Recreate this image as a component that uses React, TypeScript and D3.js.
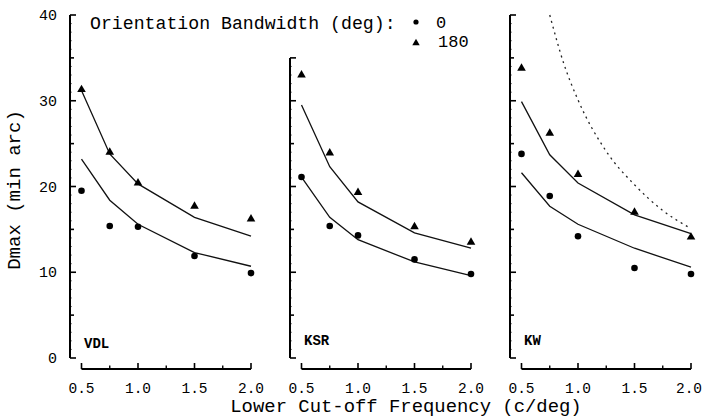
import React, { useEffect, useRef } from 'react';
import * as d3 from 'd3';

// lower cut-off frequencies (c/deg)
const freqs = [0.5, 0.75, 1.0, 1.5, 2.0];

const panelNames = ['VDL', 'KSR', 'KW'];
const panelTops = [40, 35, 40];

// measured Dmax, orientation bandwidth 0 deg (circles)
const bw0 = [
    [19.5, 15.4, 15.3, 11.9, 9.9],
    [21.1, 15.4, 14.3, 11.5, 9.8],
    [23.8, 18.9, 14.2, 10.5, 9.8],
];
// measured Dmax, orientation bandwidth 180 deg (triangles)
const bw180 = [
    [31.3, 24.0, 20.4, 17.7, 16.2],
    [33.0, 23.9, 19.3, 15.3, 13.5],
    [33.8, 26.2, 21.4, 17.0, 14.1],
];
// model curves
const fit0 = [
    [23.2, 18.4, 15.6, 12.3, 10.7],
    [21.1, 16.4, 13.8, 11.2, 9.6],
    [21.6, 17.7, 15.6, 12.8, 10.6],
];
const fit180 = [
    [31.2, 23.8, 20.3, 16.4, 14.2],
    [29.5, 22.3, 18.2, 14.6, 12.8],
    [29.9, 23.7, 20.4, 16.7, 14.5],
];
// dashed curve in the KW panel
const dashFreqs = [0.75, 0.875, 1.0, 1.25, 1.5, 1.75, 2.0];
const dashVals = [40, 34.3, 30.1, 24.1, 20.2, 17.2, 15.1];

const yTicks = [0, 10, 20, 30, 40];
const xTicks = [0.5, 1.0, 1.5, 2.0];
const xMinor = [0.75, 1.25, 1.75];

const W = 702;
const H = 418;
const axisLeft = [70, 290, 510];
const FONT = '"Liberation Mono", "DejaVu Sans Mono", monospace';

const App = () => {
    const svgRef = useRef(null);

    useEffect(() => {
        const svg = d3.select(svgRef.current);
        svg.selectAll('*').remove();

        const y = d3.scaleLinear().domain([0, 40]).range([358, 15]);
        const xAxisY = 369;

        panelNames.forEach((name, i) => {
            const ax = axisLeft[i];
            const x = d3.scaleLinear().domain([0.5, 2.0]).range([ax + 11.5, ax + 181]);
            const g = svg.append('g');

            // y axis
            const top = panelTops[i];
            g.append('line')
                .attr('x1', ax).attr('x2', ax)
                .attr('y1', y(top)).attr('y2', y(0))
                .attr('stroke', '#000').attr('stroke-width', 2);
            d3.range(0, top + 1, 1).forEach(v => {
                const len = v % 10 === 0 ? 6 : v % 5 === 0 ? 4 : 1.5;
                g.append('line')
                    .attr('x1', ax).attr('x2', ax + (v === top ? 6 : len))
                    .attr('y1', y(v)).attr('y2', y(v))
                    .attr('stroke', '#000')
                    .attr('stroke-width', len > 2 || v === top ? 1.6 : 1);
            });

            // x axis
            g.append('line')
                .attr('x1', x(0.5)).attr('x2', x(2.0))
                .attr('y1', xAxisY).attr('y2', xAxisY)
                .attr('stroke', '#000').attr('stroke-width', 2);
            xTicks.forEach(t => {
                g.append('line')
                    .attr('x1', x(t)).attr('x2', x(t))
                    .attr('y1', xAxisY).attr('y2', xAxisY - 6)
                    .attr('stroke', '#000').attr('stroke-width', 1.6);
            });
            xMinor.forEach(t => {
                g.append('line')
                    .attr('x1', x(t)).attr('x2', x(t))
                    .attr('y1', xAxisY).attr('y2', xAxisY - 3.5)
                    .attr('stroke', '#000').attr('stroke-width', 1.4);
            });
            g.selectAll('.xlab')
                .data(xTicks)
                .enter()
                .append('text')
                .attr('x', d => Math.min(x(d), W - 13))
                .attr('y', 393)
                .attr('text-anchor', 'middle')
                .attr('font-family', FONT)
                .attr('font-size', 14.5)
                .text(d => d.toFixed(1));

            if (i === 0) {
                g.selectAll('.ylab')
                    .data(yTicks)
                    .enter()
                    .append('text')
                    .attr('x', 57)
                    .attr('y', d => y(d) + 5)
                    .attr('text-anchor', 'end')
                    .attr('font-family', FONT)
                    .attr('font-size', 15)
                    .text(d => d);
            }

            // panel label
            g.append('text')
                .attr('x', ax + 14)
                .attr('y', i === 0 ? 348 : 345)
                .attr('font-family', FONT)
                .attr('font-weight', 'bold')
                .attr('font-size', 14)
                .text(name);

            // fitted lines
            const line = d3.line().x(d => x(d[0])).y(d => y(d[1]));
            [fit0[i], fit180[i]].forEach(vals => {
                g.append('path')
                    .attr('d', line(freqs.map((f, k) => [f, vals[k]])))
                    .attr('fill', 'none')
                    .attr('stroke', '#111')
                    .attr('stroke-width', 1.3);
            });

            if (i === 2) {
                const curve = d3.line().curve(d3.curveMonotoneX).x(d => x(d[0])).y(d => y(d[1]));
                g.append('path')
                    .attr('d', curve(dashFreqs.map((f, k) => [f, dashVals[k]])))
                    .attr('fill', 'none')
                    .attr('stroke', '#222')
                    .attr('stroke-width', 1.3)
                    .attr('stroke-dasharray', '2,4');
            }

            // data points
            g.selectAll('.dot')
                .data(bw0[i])
                .enter()
                .append('circle')
                .attr('cx', (d, k) => x(freqs[k]))
                .attr('cy', d => y(d))
                .attr('r', 3.3)
                .attr('fill', '#000');
            const tri = d3.symbol().type(d3.symbolTriangle).size(32);
            g.selectAll('.tri')
                .data(bw180[i])
                .enter()
                .append('path')
                .attr('d', tri())
                .attr('transform', (d, k) => `translate(${x(freqs[k])},${y(d)})`)
                .attr('fill', '#000');
        });

        // legend
        svg.append('text')
            .attr('x', 90).attr('y', 29)
            .attr('font-family', FONT).attr('font-size', 18.2)
            .text('Orientation Bandwidth (deg):');
        svg.append('circle').attr('cx', 416).attr('cy', 22).attr('r', 2.6).attr('fill', '#000');
        svg.append('path')
            .attr('d', d3.symbol().type(d3.symbolTriangle).size(24)())
            .attr('transform', 'translate(416,43)')
            .attr('fill', '#000');
        svg.append('text')
            .attr('x', 436).attr('y', 28)
            .attr('font-family', FONT).attr('font-size', 17)
            .text('0');
        svg.append('text')
            .attr('x', 438).attr('y', 47)
            .attr('font-family', FONT).attr('font-size', 17)
            .text('180');

        // axis titles
        svg.append('text')
            .attr('x', 406).attr('y', 412)
            .attr('text-anchor', 'middle')
            .attr('font-family', FONT).attr('font-size', 18.9)
            .text('Lower Cut-off Frequency (c/deg)');
        svg.append('text')
            .attr('transform', 'translate(20,190) rotate(-90)')
            .attr('text-anchor', 'middle')
            .attr('font-family', FONT).attr('font-size', 19)
            .text('Dmax (min arc)');
    }, []);

    return (
        <svg
            ref={svgRef}
            width={W}
            height={H}
            style={{ position: 'absolute', left: 0, top: 0, background: '#fff' }}
        ></svg>
    );
};

export default App;
